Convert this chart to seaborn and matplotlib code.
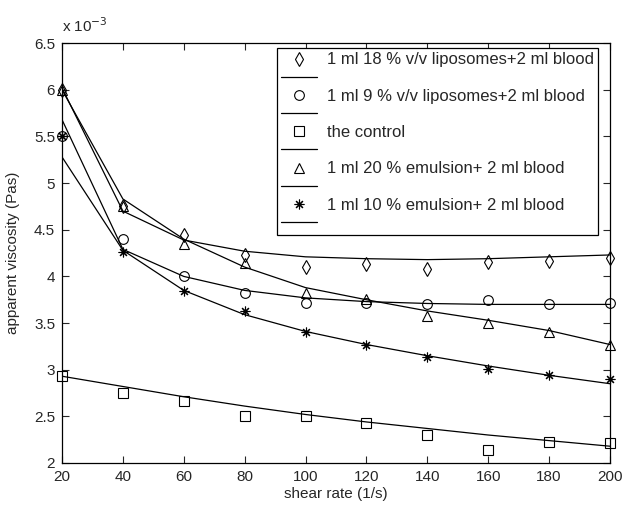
import matplotlib
matplotlib.use("Agg")
import matplotlib.pyplot as plt
from matplotlib.lines import Line2D
import seaborn as sns

# shear rate (1/s)
shear = [20, 40, 60, 80, 100, 120, 140, 160, 180, 200]

# measured apparent viscosity (x 1e-3 Pas)
lipo18 = [6.00, 4.75, 4.44, 4.23, 4.10, 4.13, 4.08, 4.15, 4.17, 4.20]
lipo9 = [5.50, 4.40, 4.00, 3.82, 3.71, 3.72, 3.70, 3.75, 3.70, 3.71]
control = [2.93, 2.75, 2.66, 2.50, 2.50, 2.43, 2.30, 2.14, 2.23, 2.21]
emul20 = [6.00, 4.76, 4.35, 4.14, 3.82, 3.76, 3.58, 3.50, 3.40, 3.26]
emul10 = [5.50, 4.26, 3.84, 3.63, 3.40, 3.26, 3.14, 3.01, 2.94, 2.90]

# fitted curves
lipo18_fit = [6.02, 4.70, 4.39, 4.27, 4.21, 4.19, 4.18, 4.19, 4.21, 4.23]
lipo9_fit = [5.68, 4.29, 4.00, 3.85, 3.77, 3.73, 3.71, 3.70, 3.70, 3.70]
control_fit = [2.93, 2.82, 2.71, 2.61, 2.52, 2.44, 2.37, 2.30, 2.24, 2.18]
emul20_fit = [6.00, 4.83, 4.40, 4.10, 3.88, 3.75, 3.63, 3.53, 3.42, 3.27]
emul10_fit = [5.28, 4.28, 3.85, 3.59, 3.41, 3.27, 3.15, 3.04, 2.94, 2.85]

labels = ["1 ml 18 % v/v liposomes+2 ml blood",
          "1 ml 9 % v/v liposomes+2 ml blood",
          "the control",
          "1 ml 20 % emulsion+ 2 ml blood",
          "1 ml 10 % emulsion+ 2 ml blood"]
markers = ["d", "o", "s", "^", (8, 2, 0)]

sns.set_style("ticks")
plt.rcParams['font.family'] = ['Liberation Sans', 'DejaVu Sans']

fig = plt.figure(figsize=(6.24, 5.07), dpi=100)
ax = fig.add_axes([0.0994, 0.0868, 0.878, 0.828])

series = [(lipo18, lipo18_fit), (lipo9, lipo9_fit), (control, control_fit),
          (emul20, emul20_fit), (emul10, emul10_fit)]

handles = []
leg_labels = []
for (obs, fit), m, lab in zip(series, markers, labels):
    sns.lineplot(x=shear, y=fit, color="k", linewidth=0.9, ax=ax)
    sns.lineplot(x=shear, y=obs, color="k", linestyle="none", marker=m,
                 markersize=7, markerfacecolor="none", markeredgecolor="k",
                 markeredgewidth=0.8, ax=ax, zorder=3, clip_on=False)
    handles.append(Line2D([], [], linestyle="none", marker=m, markersize=7,
                          markerfacecolor="none", markeredgecolor="k",
                          markeredgewidth=0.8))
    leg_labels.append(lab)
    handles.append(Line2D([], [], color="k", linewidth=0.9))
    leg_labels.append("")

ax.set_xlim(20, 200)
ax.set_ylim(2, 6.5)
ax.set_xticks(shear)
ax.set_yticks([2, 2.5, 3, 3.5, 4, 4.5, 5, 5.5, 6, 6.5])
ax.set_yticklabels(["2", "2.5", "3", "3.5", "4", "4.5", "5", "5.5", "6", "6.5"])
ax.tick_params(direction="in", top=True, right=True, labelsize=11, length=5,
               width=0.8, pad=5)
for sp in ax.spines.values():
    sp.set_linewidth(0.9)
    sp.set_color("k")

ax.set_xlabel("shear rate (1/s)", fontsize=11, labelpad=2)
ax.set_ylabel("apparent viscosity (Pas)", fontsize=11, labelpad=10)
ax.text(0.0, 1.02, r"x 10$^{-3}$", transform=ax.transAxes, fontsize=11,
        ha="left", va="bottom")

leg = ax.legend(handles, leg_labels, loc="upper right",
                bbox_to_anchor=(0.978, 0.988), fontsize=12, frameon=True,
                fancybox=False, edgecolor="k", framealpha=1,
                handlelength=2.15, labelspacing=0.19, borderpad=0.25,
                borderaxespad=0, handletextpad=0.6)
leg.get_frame().set_linewidth(0.9)

fig.savefig("out.png", dpi=100)
